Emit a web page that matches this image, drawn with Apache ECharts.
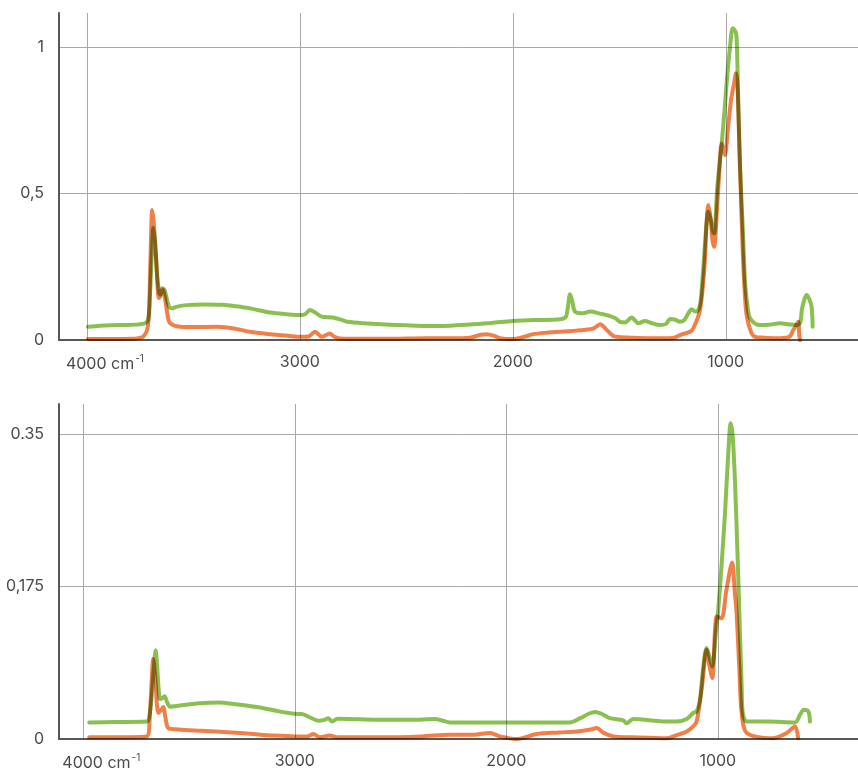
<!DOCTYPE html>
<html><head><meta charset="utf-8">
<script src="https://cdn.jsdelivr.net/npm/echarts@6/dist/echarts.min.js"></script>
<style>html,body{margin:0;padding:0;background:#fff}#c{width:858px;height:772px}</style>
</head><body><div id="c"></div>
<script>
// ---- Top chart data (wavenumber cm-1, absorbance) ----
const topGreenWn = [3995,3939,3850,3737,3713,3704,3695,3688,3680,3670,3660,3654,3645,3637,3628,3615,3602,3580,3532,3450,3361,3300,3234,3140,3060,3000,2975,2953,2930,2898,2845,2800,2774,2700,2600,2500,2400,2295,2200,2100,2002,1900,1778,1750,1731,1720,1708,1669,1637,1590,1559,1520,1496,1473,1442,1430,1411,1379,1350,1309,1280,1262,1240,1215,1195,1168,1160,1144,1136,1121,1113,1100,1090,1082,1070,1060,1054,1040,1019,1004,996,980,967,953,948,941,933,920,909,895,886,860,839,800,745,700,667,650,643,630,620,608,597,592];
const topGreenVal = [0.045,0.049,0.051,0.055,0.068,0.15,0.30,0.382,0.33,0.22,0.160,0.155,0.168,0.173,0.150,0.115,0.108,0.113,0.119,0.121,0.120,0.115,0.108,0.094,0.088,0.085,0.088,0.102,0.095,0.080,0.077,0.068,0.062,0.057,0.053,0.050,0.048,0.049,0.053,0.058,0.065,0.068,0.071,0.080,0.156,0.130,0.097,0.091,0.097,0.090,0.085,0.075,0.062,0.060,0.077,0.070,0.057,0.065,0.058,0.051,0.055,0.072,0.070,0.062,0.068,0.100,0.105,0.097,0.097,0.120,0.171,0.300,0.400,0.438,0.410,0.370,0.364,0.520,0.671,0.800,0.876,1.000,1.064,1.050,1.013,0.800,0.590,0.380,0.193,0.100,0.074,0.055,0.051,0.052,0.057,0.053,0.051,0.060,0.102,0.140,0.154,0.140,0.114,0.045];
const topOrangeWn = [3995,3900,3800,3737,3713,3704,3698,3693,3686,3675,3662,3655,3646,3635,3620,3610,3563,3480,3391,3300,3234,3140,3050,3000,2960,2929,2910,2898,2859,2840,2812,2700,2600,2500,2400,2295,2200,2150,2123,2090,2060,2002,1950,1904,1840,1778,1700,1669,1620,1590,1560,1528,1500,1450,1356,1300,1246,1215,1168,1152,1121,1100,1090,1082,1072,1062,1054,1045,1030,1019,1004,990,975,960,952,945,933,920,909,901,880,862,820,745,700,683,665,659,655,651];
const topOrangeVal = [0.003,0.003,0.004,0.011,0.050,0.200,0.380,0.444,0.400,0.280,0.143,0.150,0.177,0.150,0.080,0.058,0.045,0.044,0.045,0.038,0.028,0.020,0.014,0.011,0.012,0.028,0.018,0.011,0.022,0.012,0.005,0.004,0.004,0.005,0.006,0.006,0.008,0.018,0.020,0.015,0.006,0.003,0.010,0.020,0.025,0.028,0.032,0.034,0.040,0.054,0.035,0.014,0.010,0.008,0.006,0.006,0.007,0.017,0.028,0.040,0.102,0.250,0.400,0.461,0.420,0.340,0.318,0.400,0.580,0.671,0.631,0.720,0.820,0.880,0.910,0.870,0.590,0.300,0.140,0.080,0.025,0.011,0.008,0.006,0.012,0.034,0.055,0.062,0.020,0.000];

// ---- Bottom chart data ----
const botGreenWn = [3972,3850,3700,3685,3670,3658,3650,3640,3632,3616,3605,3590,3560,3450,3360,3280,3180,3080,3002,2967,2930,2889,2860,2842,2823,2799,2739,2600,2450,2337,2300,2267,2100,2000,1850,1699,1650,1610,1581,1550,1510,1447,1431,1400,1300,1242,1194,1147,1116,1100,1084,1070,1053,1040,1026,1010,998,982,966,950,939,930,919,905,898,887,882,863,769,635,611,593,572,564];
const botGreenVal = [0.019,0.0195,0.020,0.030,0.070,0.102,0.080,0.047,0.046,0.049,0.043,0.037,0.038,0.041,0.042,0.040,0.0367,0.032,0.029,0.0287,0.025,0.021,0.022,0.0237,0.020,0.0233,0.023,0.022,0.022,0.023,0.021,0.019,0.019,0.019,0.019,0.019,0.024,0.029,0.031,0.029,0.024,0.0214,0.018,0.023,0.021,0.020,0.020,0.023,0.030,0.0317,0.045,0.080,0.1044,0.095,0.0833,0.120,0.148,0.200,0.259,0.330,0.3626,0.350,0.2975,0.200,0.1446,0.060,0.030,0.020,0.020,0.019,0.028,0.0336,0.0317,0.020];
const botOrangeWn = [3972,3850,3700,3685,3669,3660,3645,3630,3622,3612,3598,3550,3448,3300,3212,3100,3002,2940,2913,2881,2834,2800,2600,2400,2267,2150,2077,2030,1951,1856,1750,1667,1600,1573,1540,1494,1400,1242,1179,1147,1116,1100,1075,1053,1040,1026,1005,982,960,932,920,911,898,887,863,738,674,635,620];
const botOrangeVal = [0.002,0.002,0.003,0.030,0.0918,0.070,0.030,0.034,0.0367,0.025,0.0126,0.011,0.0095,0.0075,0.006,0.004,0.003,0.003,0.0057,0.002,0.004,0.002,0.002,0.003,0.005,0.005,0.0069,0.003,0.000,0.0057,0.0075,0.0087,0.011,0.0126,0.007,0.003,0.002,0.001,0.0057,0.0087,0.0145,0.020,0.060,0.1025,0.085,0.070,0.1407,0.1388,0.170,0.2027,0.170,0.1446,0.080,0.030,0.0069,0.001,0.0069,0.0145,0.001];

// ---- Tick labels ----
const xTickLabels = {4000: '{pad|}{n|4000 cm}{s|-1}', 3000: '3000', 2000: '2000', 1000: '1000'};
const topYTickLabels = {0: '0', 0.5: '0,5', 1: '1'};
const botYTickLabels = {0: '0', 0.175: '0,175', 0.35: '0.35'};

const GREEN = '#8ac050', ORANGE = '#f08048';
const AXIS = '#5a5752', GRIDC = '#a8a8a8', TXT = '#4a4a4a';
const FONT = 'Inter, "Noto Sans", sans-serif';

function zip(a, b) { return a.map((v, i) => [v, b[i]]); }
function lookup(map, v) {
  for (const k in map) { if (Math.abs(Number(k) - v) < 1e-6) return map[k]; }
  return '';
}
function xAxisCfg(grid, min, max) {
  return {
    gridIndex: grid, type: 'value', inverse: true, min: min, max: max,
    splitNumber: 4, minInterval: 1000, maxInterval: 1000,
    axisLine: {show: true, onZero: true, lineStyle: {color: AXIS, width: 2}},
    axisTick: {show: false},
    axisLabel: {
      margin: 14, color: TXT, fontFamily: FONT, fontSize: 16,
      showMinLabel: false, showMaxLabel: false,
      formatter: v => lookup(xTickLabels, v),
      rich: {
        pad: {width: 36, fontSize: 16},
        n: {fontSize: 16, color: TXT, fontFamily: FONT, lineHeight: 20},
        s: {fontSize: 10, color: TXT, fontFamily: FONT, verticalAlign: 'top', lineHeight: 12, padding: [0, 0, 6, 1]}
      }
    },
    splitLine: {show: true, showMinLine: false, showMaxLine: false, lineStyle: {color: GRIDC, width: 1}}
  };
}
function yAxisCfg(grid, max, interval, labels) {
  return {
    gridIndex: grid, type: 'value', min: 0, max: max, interval: interval,
    axisLine: {show: true, onZero: false, lineStyle: {color: AXIS, width: 2}},
    axisTick: {show: false},
    axisLabel: {margin: 15, color: TXT, fontFamily: FONT, fontSize: 16, showMaxLabel: false,
      formatter: v => lookup(labels, v)},
    splitLine: {show: true, showMinLine: false, showMaxLine: false, lineStyle: {color: GRIDC, width: 1}}
  };
}
function lineSeries(xi, data, color, z) {
  return {
    type: 'line', xAxisIndex: xi, yAxisIndex: xi, data: data, showSymbol: false, symbol: 'none',
    smooth: 0.3, z: z, blendMode: 'multiply',
    lineStyle: {color: color, width: 4, cap: 'round', join: 'round'}
  };
}

const chart = echarts.init(document.getElementById('c'), null, {renderer: 'canvas'});
chart.setOption({
  animation: false,
  backgroundColor: '#ffffff',
  grid: [
    {left: 59, top: 13, right: 0, height: 327},
    {left: 59, top: 404, right: 0, height: 335}
  ],
  xAxis: [xAxisCfg(0, 379, 4131), xAxisCfg(1, 337, 4115)],
  yAxis: [yAxisCfg(0, 1.116, 0.5, topYTickLabels), yAxisCfg(1, 0.3848, 0.175, botYTickLabels)],
  series: [
    lineSeries(0, zip(topOrangeWn, topOrangeVal), ORANGE, 2),
    lineSeries(0, zip(topGreenWn, topGreenVal), GREEN, 3),
    lineSeries(1, zip(botOrangeWn, botOrangeVal), ORANGE, 2),
    lineSeries(1, zip(botGreenWn, botGreenVal), GREEN, 3)
  ]
});
</script></body></html>
